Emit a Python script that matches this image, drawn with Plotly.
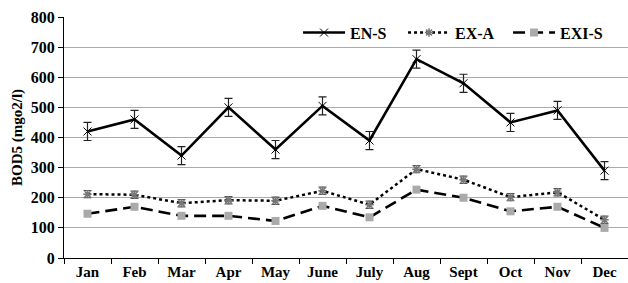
import plotly.graph_objects as go

months = ["Jan", "Feb", "Mar", "Apr", "May", "June", "July", "Aug", "Sept", "Oct", "Nov", "Dec"]
en_s = [420, 460, 340, 500, 360, 505, 390, 660, 580, 450, 490, 290]
en_s_err = [30, 30, 30, 30, 30, 30, 30, 30, 30, 30, 30, 30]
ex_a = [212, 210, 182, 192, 190, 223, 177, 295, 260, 202, 218, 127]
ex_a_err = [12, 12, 12, 12, 12, 12, 12, 12, 12, 12, 12, 12]
exi_s = [147, 170, 140, 140, 123, 173, 135, 227, 200, 155, 170, 100]
exi_s_err = [4, 4, 4, 4, 4, 4, 4, 4, 4, 4, 4, 4]
y_ticks = [0, 100, 200, 300, 400, 500, 600, 700, 800]

font_fam = "Liberation Serif"

fig = go.Figure()
fig.add_trace(go.Scatter(
    x=months, y=en_s, name="EN-S", mode="lines+markers",
    line=dict(color="black", width=2.6),
    marker=dict(symbol="x-thin", size=8, color="black", line=dict(color="black", width=1)),
    error_y=dict(type="data", array=en_s_err, color="#222", thickness=1.2, width=4),
))
fig.add_trace(go.Scatter(
    x=months, y=ex_a, name="EX-A", mode="lines+markers",
    line=dict(color="black", width=2.5, dash="3px,3px"),
    marker=dict(symbol="asterisk", size=7, color="#777", line=dict(color="#777", width=1.5)),
    error_y=dict(type="data", array=ex_a_err, color="#555", thickness=1.2, width=4),
))
fig.add_trace(go.Scatter(
    x=months, y=exi_s, name="EXI-S", mode="lines+markers",
    line=dict(color="black", width=2.6, dash="12px,6px"),
    marker=dict(symbol="square", size=8, color="#aaa"),
    error_y=dict(type="data", array=exi_s_err, color="#888", thickness=1, width=3),
))

fig.update_layout(
    width=628, height=283,
    margin=dict(l=64, r=0, t=17, b=25, autoexpand=False),
    paper_bgcolor="white", plot_bgcolor="white",
    font=dict(family=font_fam, size=13, color="black"),
    showlegend=True,
    legend=dict(orientation="h", x=0.415, y=0.935, xanchor="left", yanchor="middle",
                bgcolor="rgba(0,0,0,0)", font=dict(family=font_fam, size=16, weight="bold"),
                itemwidth=42, entrywidth=48, entrywidthmode="pixels", tracegroupgap=0),
)
fig.update_xaxes(
    type="category", tickson="boundaries", ticks="outside", ticklen=5, tickcolor="black",
    showline=True, linecolor="black", linewidth=1.2, showgrid=False,
    tickfont=dict(family=font_fam, size=15, weight="bold"),
    range=[-0.5, 11.5], automargin=False,
)
fig.update_yaxes(
    range=[0, 800], tickvals=y_ticks, ticks="outside", ticklen=5, tickcolor="black",
    showline=True, linecolor="black", linewidth=1.2,
    showgrid=True, gridcolor="#aaa", gridwidth=1.2,
    tickfont=dict(family=font_fam, size=16, weight="bold"),
    title=dict(text="BOD5 (mgo2/l)", font=dict(family=font_fam, size=15, weight="bold"), standoff=4),
    zeroline=False, automargin=False,
)

fig.write_html("out.html", config={"displayModeBar": False},
               post_script="document.body.style.margin='0px';")
